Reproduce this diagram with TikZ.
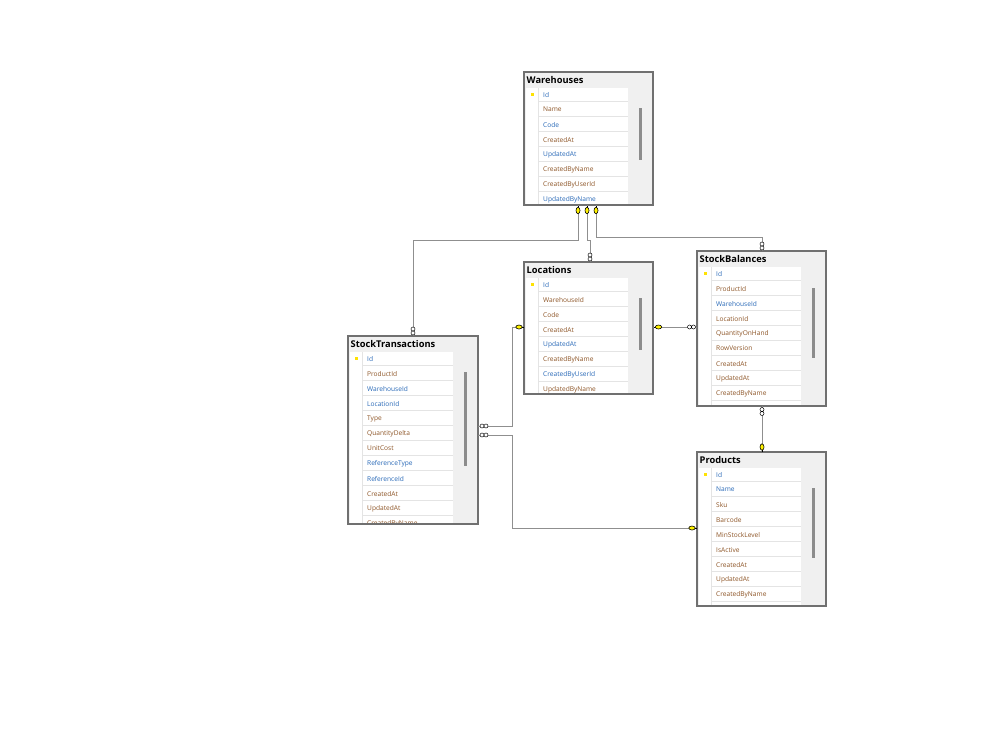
\documentclass[tikz,border=0pt]{standalone}
\usepackage{fontspec}
\setmainfont{Open Sans}
\definecolor{fblue}{HTML}{2A6AB8}
\definecolor{fbrown}{HTML}{8E5628}
\definecolor{tgray}{HTML}{F0F0F0}
\definecolor{bgray}{HTML}{707070}
\definecolor{sepc}{HTML}{E4E4E4}
\definecolor{thumbc}{HTML}{8C8C8C}
\definecolor{connc}{HTML}{8F8F8F}
\definecolor{keyy}{HTML}{FFF200}
\tikzset{
  tblbox/.style={draw=bgray, line width=1.3pt, fill=tgray, inner sep=0pt, outer sep=0pt},
  ttl/.style={anchor=west, inner sep=0pt, font=\bfseries\fontsize{9.3}{10}\selectfont},
  fld/.style={anchor=west, inner sep=0pt, font=\fontsize{6.6}{7}\selectfont},
  sepl/.style={draw=sepc, line width=0.8pt},
  thumbl/.style={draw=thumbc, line width=3pt},
  connl/.style={draw=connc, line width=1pt},
  keym/.style={draw=black, line width=0.6pt, fill=keyy},
  infm/.style={draw=black, line width=0.5pt, fill=white},
}
\newcommand\erdtable[9]{%
  \node[tblbox, minimum width=#4pt, minimum height=#5pt, anchor=north west] (#1) at (#2,#3) {};
  \begin{scope}[shift={(#2,#3)}]
    \fill[white] (2,16) rectangle (#4-25,#5-1.5);
    \draw[sepl] (14,16) -- (14,#5-1.5);
    \node[ttl] at (2.5,8.2) {#6};
    \fill[yellow!85!orange] (7,20.5) rectangle (10,23.5);
    \begin{scope}
      \clip (2,16) rectangle (#4-25,#5-1.5);
      \foreach \c/\t [count=\i from 0] in {#9} {
        \node[fld, text=\c] at (19,22.6+15*\i) {\t};
        \draw[sepl] (14,29.5+15*\i) -- (#4-25,29.5+15*\i);
      }
    \end{scope}
    \draw[thumbl] (#4-13,#7) -- (#4-13,#8);
  \end{scope}
  \draw[draw=bgray, line width=1.3pt] (#1.north west) rectangle (#1.south east);
}
\newcommand\keyv[3]{% x, edge y, direction (+1 down from edge, -1 up)
  \draw[black, line width=0.8pt] (#1,#2) -- (#1,#2+2*#3);
  \draw[keym] (#1,#2+5*#3) ellipse (2 and 3.2);}
\newcommand\keyh[3]{%
  \draw[black, line width=0.8pt] (#1,#2) -- (#1+2*#3,#2);
  \draw[keym] (#1+5*#3,#2) ellipse (3.2 and 2);}
\newcommand\infv[3]{%
  \draw[infm] (#1,#2+3*#3) circle (2) (#1,#2+7*#3) circle (2);}
\newcommand\infh[3]{%
  \draw[infm] (#1+3.5*#3,#2) circle (2) (#1+7.5*#3,#2) circle (2);}
\begin{document}
\begin{tikzpicture}[x=1pt, y=-1pt]
\fill[white] (0,0) rectangle (1000,750);
\useasboundingbox (0,0) rectangle (1000,750);

\erdtable{wh}{524}{72}{129}{133}{Warehouses}{36}{88}{fblue/Id, fbrown/Name, fblue/Code, fbrown/CreatedAt, fblue/UpdatedAt, fbrown/CreatedByName, fbrown/CreatedByUserId, fblue/UpdatedByName}
\erdtable{loc}{524}{262}{129}{132}{Locations}{36}{88}{fblue/Id, fbrown/WarehouseId, fbrown/Code, fbrown/CreatedAt, fblue/UpdatedAt, fbrown/CreatedByName, fblue/CreatedByUserId, fbrown/UpdatedByName}
\erdtable{st}{348}{336}{130}{188}{StockTransactions}{36}{130}{fblue/Id, fbrown/ProductId, fblue/WarehouseId, fblue/LocationId, fbrown/Type, fbrown/QuantityDelta, fbrown/UnitCost, fblue/ReferenceType, fblue/ReferenceId, fbrown/CreatedAt, fbrown/UpdatedAt, fbrown/CreatedByName}
\erdtable{sb}{697}{251}{129}{155}{StockBalances}{37}{107}{fblue/Id, fbrown/ProductId, fblue/WarehouseId, fbrown/LocationId, fbrown/QuantityOnHand, fbrown/RowVersion, fbrown/CreatedAt, fbrown/UpdatedAt, fbrown/CreatedByName}
\erdtable{pr}{697}{452}{129}{154}{Products}{36}{106}{fblue/Id, fblue/Name, fbrown/Sku, fbrown/Barcode, fbrown/MinStockLevel, fbrown/IsActive, fbrown/CreatedAt, fbrown/UpdatedAt, fbrown/CreatedByName}

% connectors
\draw[connl] (wh.south -| 578,0) -- ++(0,35) -| (st.north -| 413,0);
\draw[connl] (wh.south -| 587,0) -- ++(0,35) -| (loc.north -| 590,0);
\draw[connl] (wh.south -| 596,0) -- ++(0,32) -| (sb.north -| 762,0);
\draw[connl] (loc.east |- 0,327) -- (sb.west |- 0,327);
\draw[connl] (st.east |- 0,426) -- ++(34,0) |- (loc.west |- 0,327);
\draw[connl] (st.east |- 0,435) -- ++(34,0) |- (pr.west |- 0,528);
\draw[connl] (sb.south -| 762,0) -- (pr.north -| 762,0);

% end markers
\keyv{578}{205.5}{1}
\keyv{587}{205.5}{1}
\keyv{596}{205.5}{1}
\infv{413}{336}{-1}
\infv{590}{262}{-1}
\infv{762}{251}{-1}
\keyh{653.5}{327}{1}
\infh{697}{327}{-1}
\keyh{524}{327}{-1}
\infh{478.5}{426}{1}
\infh{478.5}{435}{1}
\keyh{697}{528}{-1}
\infv{762}{406.5}{1}
\keyv{762}{452}{-1}
\end{tikzpicture}
\end{document}
